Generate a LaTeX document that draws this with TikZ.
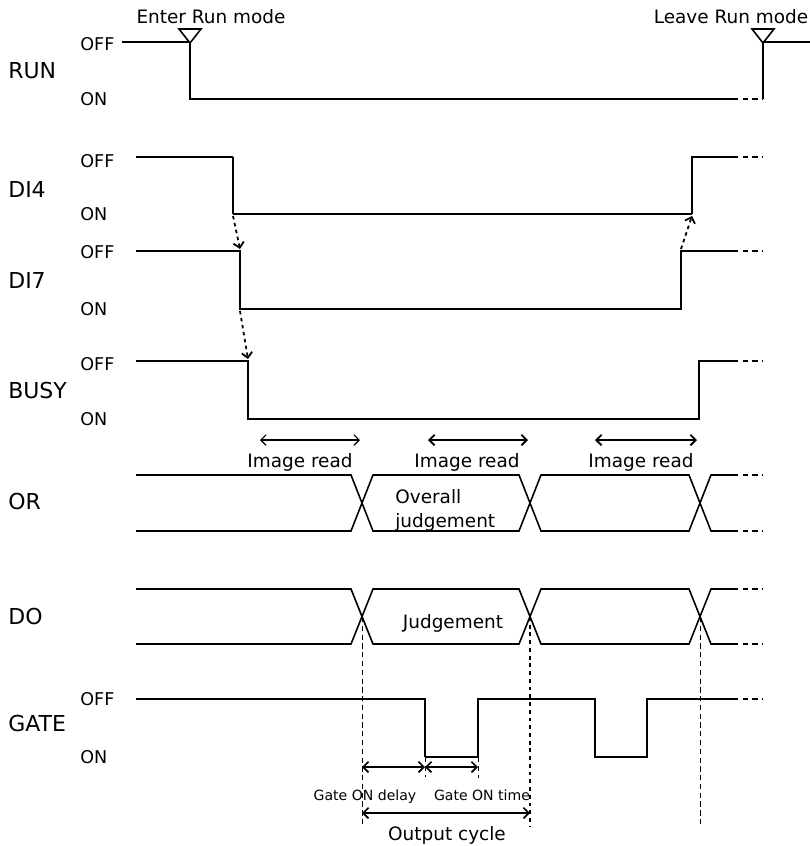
\documentclass[tikz,border=0pt]{standalone}
\usepackage{fontspec}
\setmainfont{DejaVu Sans}
\usetikzlibrary{arrows.meta}

\begin{document}
\begin{tikzpicture}[x=0.02cm,y=-0.02cm,>={Straight Barb[length=3pt,width=6pt]},
 sig/.style={line width=1.4pt},
 thinsig/.style={line width=0.7pt},
 busline/.style={line width=0.9pt},
 cont/.style={line width=0.9pt,dash pattern=on 3pt off 2.5pt},
 signame/.style={anchor=base west,inner sep=0pt,font=\fontsize{12.5}{14}\selectfont},
 lvl/.style={anchor=base west,inner sep=0pt,font=\fontsize{10}{12}\selectfont},
 lbl/.style={anchor=base,inner sep=0pt,font=\fontsize{10.5}{12}\selectfont},
 dimtext/.style={anchor=base,inner sep=0pt,font=\fontsize{8}{10}\selectfont},
 cause/.style={->,line width=1pt,dash pattern=on 2pt off 2pt},
 guide/.style={line width=0.5pt,dash pattern=on 3pt off 2pt},
 dim/.style={<->,line width=1pt}]
\useasboundingbox (0,0) rectangle (810,846);

% signal names and levels
\foreach \n/\y in {RUN/78,DI4/197,DI7/288,BUSY/398,OR/509,DO/624,GATE/731}
  \node[signame] (\n) at (8,\y) {\n};
\foreach \s/\off/\on in {RUN/50/105,DI4/167/220,DI7/258/315,BUSY/370/425,GATE/705/763}{
  \node[lvl] (\s off) at (80,\off) {OFF};
  \node[lvl] (\s on) at (80,\on) {ON};
}

% RUN
\node[lbl] (enter) at (211,23) {Enter Run mode};
\node[lbl] (leave) at (731,23) {Leave Run mode};
\draw[line width=0.9pt] (179,29) -- (201,29) -- (190,43) -- cycle;
\draw[line width=0.9pt] (752,29) -- (774,29) -- (763,43) -- cycle;
\draw[thinsig] (122,42) -- (190,42);
\draw[sig] (190,42) -- (190,99) -- (733,99);
\draw[cont] (733,99) -- (763,99);
\draw[sig] (763,99) -- (763,42);
\draw[thinsig] (763,42) -- (810,42);

% DI4
\draw[thinsig] (136,157) -- (233,157);
\draw[sig] (233,157) -- (233,214);
\draw[thinsig] (233,214) -- (692,214);
\draw[sig] (692,214) -- (692,157) -- (733,157);
\draw[cont] (733,157) -- (763,157);

% DI7
\draw[sig] (136,251) -- (240,251) -- (240,309) -- (681,309) -- (681,251) -- (733,251);
\draw[cont] (733,251) -- (763,251);

% BUSY
\draw[sig] (136,361) -- (248,361) -- (248,419) -- (699,419) -- (699,361) -- (733,361);
\draw[cont] (733,361) -- (763,361);

% handshake arrows
\coordinate (di4fall) at (233,216);
\coordinate (di7fall) at (240,249);
\coordinate (di7low) at (240,311);
\coordinate (busyfall) at (248,359);
\coordinate (di7rise) at (681,249);
\coordinate (di4rise) at (692,216);
\draw[cause] (di4fall) -- (di7fall);
\draw[cause] (di7low) -- (busyfall);
\draw[cause] (di7rise) -- (di4rise);

% image read spans
\foreach \a/\b/\c/\w in {260/360/300/0.7pt,428/528/467/1.1pt,595/697/641/1.1pt}{
  \coordinate (ra\a) at (\a,440);
  \coordinate (rb\a) at (\b,440);
  \draw[<->,line width=\w] (ra\a) -- (rb\a);
  \node[lbl] at (\c,467) {Image read};
}

% OR and DO buses
\foreach \t/\b in {475/531,589/644}{
  \draw[busline] (136,\t) -- (351,\t) -- (373,\b) -- (519,\b) -- (541,\t) -- (689,\t) -- (711,\b) -- (733,\b);
  \draw[busline] (136,\b) -- (351,\b) -- (373,\t) -- (519,\t) -- (541,\b) -- (689,\b) -- (711,\t) -- (733,\t);
  \draw[cont] (733,\t) -- (763,\t);
  \draw[cont] (733,\b) -- (763,\b);
}
\node[lvl,font=\fontsize{10.5}{12}\selectfont] (overall) at (395,503) {Overall};
\node[lvl,font=\fontsize{10.5}{12}\selectfont] (judg) at (395,527) {judgement};
\node[lbl] (judgement) at (453,628) {Judgement};

% GATE
\draw[sig] (136,699) -- (425,699) -- (425,757);
\draw[thinsig] (425,757) -- (478,757);
\draw[sig] (478,757) -- (478,699) -- (595,699) -- (595,757) -- (647,757) -- (647,699) -- (700,699);
\draw[thinsig] (700,699) -- (733,699);
\draw[cont] (733,699) -- (763,699);

% guide lines
\coordinate (c1) at (362,617);
\coordinate (c2) at (530,617);
\coordinate (c3) at (700,617);
\coordinate (g1) at (425,757);
\coordinate (g2) at (478,757);
\draw[guide] (c1) -- (362,827);
\draw[line width=1.2pt,dash pattern=on 2.2pt off 2.2pt] (c2) -- (530,827);
\draw[guide] (c3) -- (700,825);
\draw[guide] (g1) -- (425,777);
\draw[guide] (g2) -- (478,778);

% timing spans
\draw[dim] (362,767) -- (425,767);
\draw[dim] (425,767) -- (478,767);
\draw[dim] (362,813) -- (530,813);
\node[dimtext] (delay) at (365,800) {Gate ON delay};
\node[dimtext] (ontime) at (482,800) {Gate ON time};
\node[lbl] (cycle) at (447,840) {Output cycle};
\end{tikzpicture}
\end{document}
